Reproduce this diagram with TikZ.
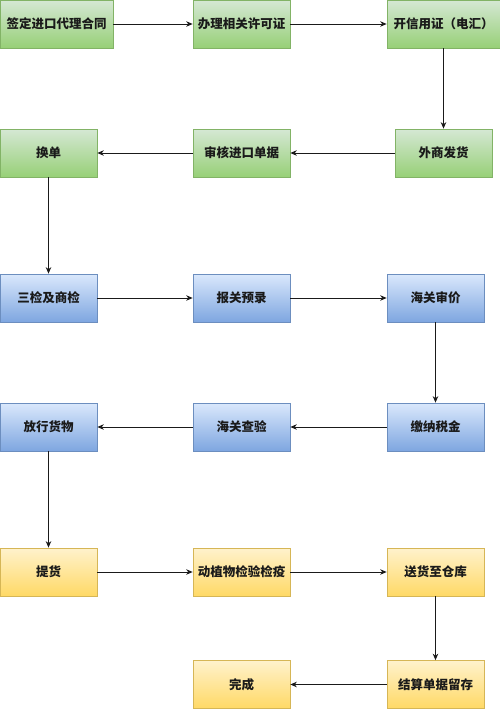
\documentclass[tikz,border=0pt]{standalone}
\usepackage{fontspec}
\newfontfamily\cjk{Noto Sans CJK SC}
\usetikzlibrary{arrows.meta,positioning}

\begin{document}
\begin{tikzpicture}[x=1pt, y=-1pt, >={Stealth[length=6.5pt,width=5.5pt]}, font=\cjk\bfseries\fontsize{12.5}{14}\selectfont]
  \definecolor{ink}{HTML}{1A1A1A}
  \definecolor{greenTop}{HTML}{D5E8D4}
  \definecolor{greenBot}{HTML}{97D077}
  \definecolor{greenLine}{HTML}{82B366}
  \definecolor{blueTop}{HTML}{DAE8FC}
  \definecolor{blueBot}{HTML}{7EA6E0}
  \definecolor{blueLine}{HTML}{6C8EBF}
  \definecolor{yellowTop}{HTML}{FFF2CC}
  \definecolor{yellowBot}{HTML}{FFD966}
  \definecolor{yellowLine}{HTML}{D6B656}
  \tikzset{
    box/.style={minimum width=97pt, minimum height=48pt, inner sep=0pt, text=ink, line width=0.7pt},
    greenbox/.style={box, draw=greenLine, top color=greenTop, bottom color=greenBot},
    bluebox/.style={box, draw=blueLine, top color=blueTop, bottom color=blueBot},
    yellowbox/.style={box, draw=yellowLine, top color=yellowTop, bottom color=yellowBot},
    flow/.style={->, draw=ink, line width=0.8pt}
  }
  \useasboundingbox[fill=white] (0,0) rectangle (500,709);

  % stage 1: contract and documents
  \node[greenbox, minimum width=113pt] (contract) at (56.5,24) {签定进口代理合同};
  \node[greenbox] (licence) at (241.5,24) {办理相关许可证};
  \node[greenbox, minimum width=113pt] (credit) at (443.5,24) {开信用证（电汇）};
  \node[greenbox] (ship) at (443.5,153) {外商发货};
  \node[greenbox] (review) at (241.5,153) {审核进口单据};
  \node[greenbox] (swap) at (48.5,153) {换单};

  % stage 2: customs
  \node[bluebox] (inspect) at (48.5,298) {三检及商检};
  \node[bluebox] (prerecord) at (241.5,298) {报关预录};
  \node[bluebox] (pricing) at (435.5,298) {海关审价};
  \node[bluebox] (tax) at (435.5,427) {缴纳税金};
  \node[bluebox] (check) at (241.5,427) {海关查验};
  \node[bluebox] (release) at (48.5,427) {放行货物};

  % stage 3: delivery
  \node[yellowbox] (pickup) at (48.5,572) {提货};
  \node[yellowbox] (quarantine) at (241.5,572) {动植物检验检疫};
  \node[yellowbox] (warehouse) at (435.5,572) {送货至仓库};
  \node[yellowbox] (settle) at (435.5,684.5) {结算单据留存};
  \node[yellowbox] (done) at (241.5,684.5) {完成};

  \draw[flow] (contract) -- (licence);
  \draw[flow] (licence) -- (credit);
  \draw[flow] (credit) -- (ship);
  \draw[flow] (ship) -- (review);
  \draw[flow] (review) -- (swap);
  \draw[flow] (swap) -- (inspect);
  \draw[flow] (inspect) -- (prerecord);
  \draw[flow] (prerecord) -- (pricing);
  \draw[flow] (pricing) -- (tax);
  \draw[flow] (tax) -- (check);
  \draw[flow] (check) -- (release);
  \draw[flow] (release) -- (pickup);
  \draw[flow] (pickup) -- (quarantine);
  \draw[flow] (quarantine) -- (warehouse);
  \draw[flow] (warehouse) -- (settle);
  \draw[flow] (settle) -- (done);
\end{tikzpicture}
\end{document}
